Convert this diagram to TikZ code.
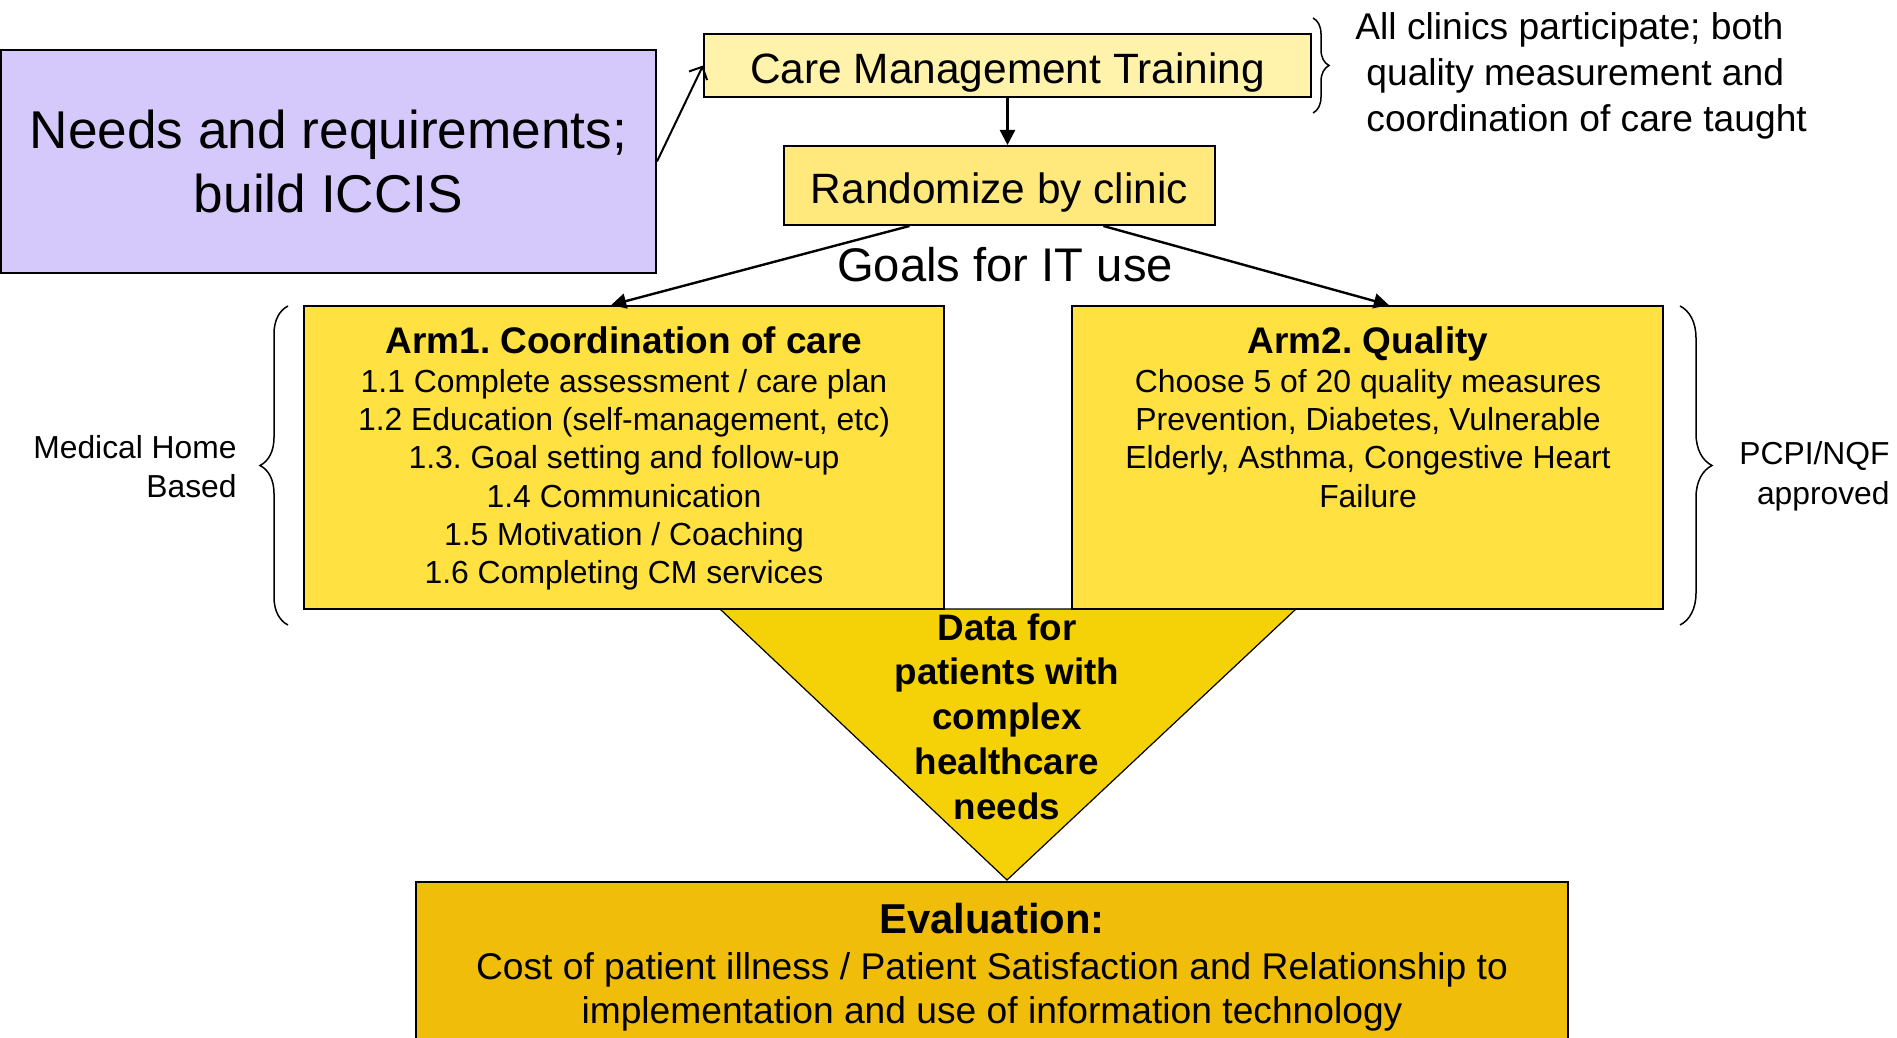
\documentclass[tikz,border=0pt]{standalone}
\usepackage{fontspec}
\setmainfont{Liberation Sans}
\usetikzlibrary{arrows.meta,decorations.pathreplacing,calc}
\definecolor{needsc}{RGB}{213,200,250}
\definecolor{cmtc}{RGB}{255,242,170}
\definecolor{randc}{RGB}{255,233,125}
\definecolor{armc}{RGB}{255,226,66}
\definecolor{tric}{RGB}{245,210,8}
\definecolor{evalc}{RGB}{240,189,10}
\newcommand{\fs}[2]{\fontsize{#1}{#2}\selectfont}
\frenchspacing
\begin{document}
\begin{tikzpicture}[x=0.5pt,y=-0.5pt,
  boxn/.style={draw=black, line width=1pt, inner sep=0pt},
  txt/.style={inner sep=0pt, text=black},
  arr/.style={line width=1.2pt, -{Triangle[length=7.5pt,width=7.5pt]}},
  barb/.style={line width=1pt, -{Straight Barb[length=5pt,width=10pt]}},
  brc/.style={line width=0.75pt, decorate, decoration={brace, amplitude=#1}}]
\useasboundingbox (0,0) rectangle (1897,1038);
\clip (0,0) rectangle (1897,1038);

% triangle (behind boxes)
\path[draw=black, line width=0.6pt, fill=tric] (720,609) -- (1296,609) -- (1007,880) -- cycle;
\node[txt, anchor=north, align=center, font=\bfseries\fs{18.4pt}{22.4pt}] (data) at (1007,613)
  {Data for\\patients with\\complex\\healthcare\\needs};

% boxes
\node[boxn, fill=needsc, minimum width=327.5pt, minimum height=111.5pt, align=center,
      font=\fs{26.6pt}{32pt}] (needs) at (328.5,161.5) {Needs and requirements;\\build ICCIS};
\node[boxn, fill=cmtc, minimum width=303.5pt, minimum height=31.5pt, font=\fs{21.2pt}{25pt},
      text height=17.8pt, text depth=0pt]
      (cmt) at (1007.5,65.5) {Care Management Training};
\node[boxn, fill=randc, minimum width=215.5pt, minimum height=39.5pt, font=\fs{21.2pt}{25pt},
      text height=17.6pt, text depth=0pt]
      (rand) at (999.5,185.5) {Randomize by clinic};
\node[txt, font=\fs{23.6pt}{28pt}] (goals) at (1005,265) {Goals for IT use};

\node[boxn, fill=armc, minimum width=320pt, minimum height=151.5pt] (arm1) at (624,457.5) {};
\node[boxn, fill=armc, minimum width=295.5pt, minimum height=151.5pt] (arm2) at (1367.5,457.5) {};

\node[txt, anchor=base, font=\bfseries\fs{18.5pt}{22pt}] (arm1t) at (624,353) {Arm1. Coordination of care};
\node[txt, anchor=north, align=center, font=\fs{15.95pt}{19.1pt}] (arm1b) at (624,369)
  {1.1 Complete assessment / care plan\\1.2 Education (self-management, etc)\\1.3. Goal setting and follow-up\\1.4 Communication\\1.5 Motivation / Coaching\\1.6 Completing CM services};

\node[txt, anchor=base, font=\bfseries\fs{18.5pt}{22pt}] (arm2t) at (1368,353) {Arm2. Quality};
\node[txt, anchor=north, align=center, font=\fs{15.95pt}{19.1pt}] (arm2b) at (1368,369)
  {Choose 5 of 20 quality measures\\Prevention, Diabetes, Vulnerable\\Elderly, Asthma, Congestive Heart\\Failure};

\node[boxn, fill=evalc, minimum width=576pt, minimum height=84pt] (eval) at (992,966) {};
\node[txt, anchor=base, font=\bfseries\fs{20.9pt}{25pt}] (evalt) at (992,933) {Evaluation:};
\node[txt, anchor=north, align=center, font=\fs{18.6pt}{22.3pt}] (evalb) at (992,952)
  {Cost of patient illness / Patient Satisfaction and Relationship to\\implementation and use of information technology};

% side notes
\node[txt, anchor=north west, align=left, font=\fs{18.6pt}{23pt}] (allc) at (1355,12)
  {All clinics participate; both\\\hspace*{5.5pt}quality measurement and\\\hspace*{5.5pt}coordination of care taught};
\node[txt, anchor=north east, align=right, font=\fs{15.9pt}{19.4pt}] (medh) at (237,435)
  {Medical Home\\Based};
\node[txt, anchor=north east, align=right, font=\fs{15.9pt}{20pt}] (pcpi) at (1890,441)
  {PCPI/NQF\\approved};

% braces
\coordinate (b1s) at (1313,18);
\coordinate (b1e) at (1313,113);
\draw[brc=8pt] (b1s) -- (b1e);
\coordinate (b2s) at (288,625);
\coordinate (b2e) at (288,306);
\draw[brc=14pt] (b2s) -- (b2e);
\coordinate (b3s) at (1680,306);
\coordinate (b3e) at (1680,625);
\draw[brc=16pt] (b3s) -- (b3e);

% connectors
\draw[barb] (needs.east) -- (cmt.west);
\draw[arr] (cmt.south) -- (cmt.south |- rand.north);
\draw[arr] ($(rand.south west)!0.292!(rand.south east)$) -- ($(arm1.north west)!0.48!(arm1.north east)$);
\draw[arr] ($(rand.south west)!0.74!(rand.south east)$) -- ($(arm2.north west)!0.536!(arm2.north east)$);
\end{tikzpicture}
\end{document}
